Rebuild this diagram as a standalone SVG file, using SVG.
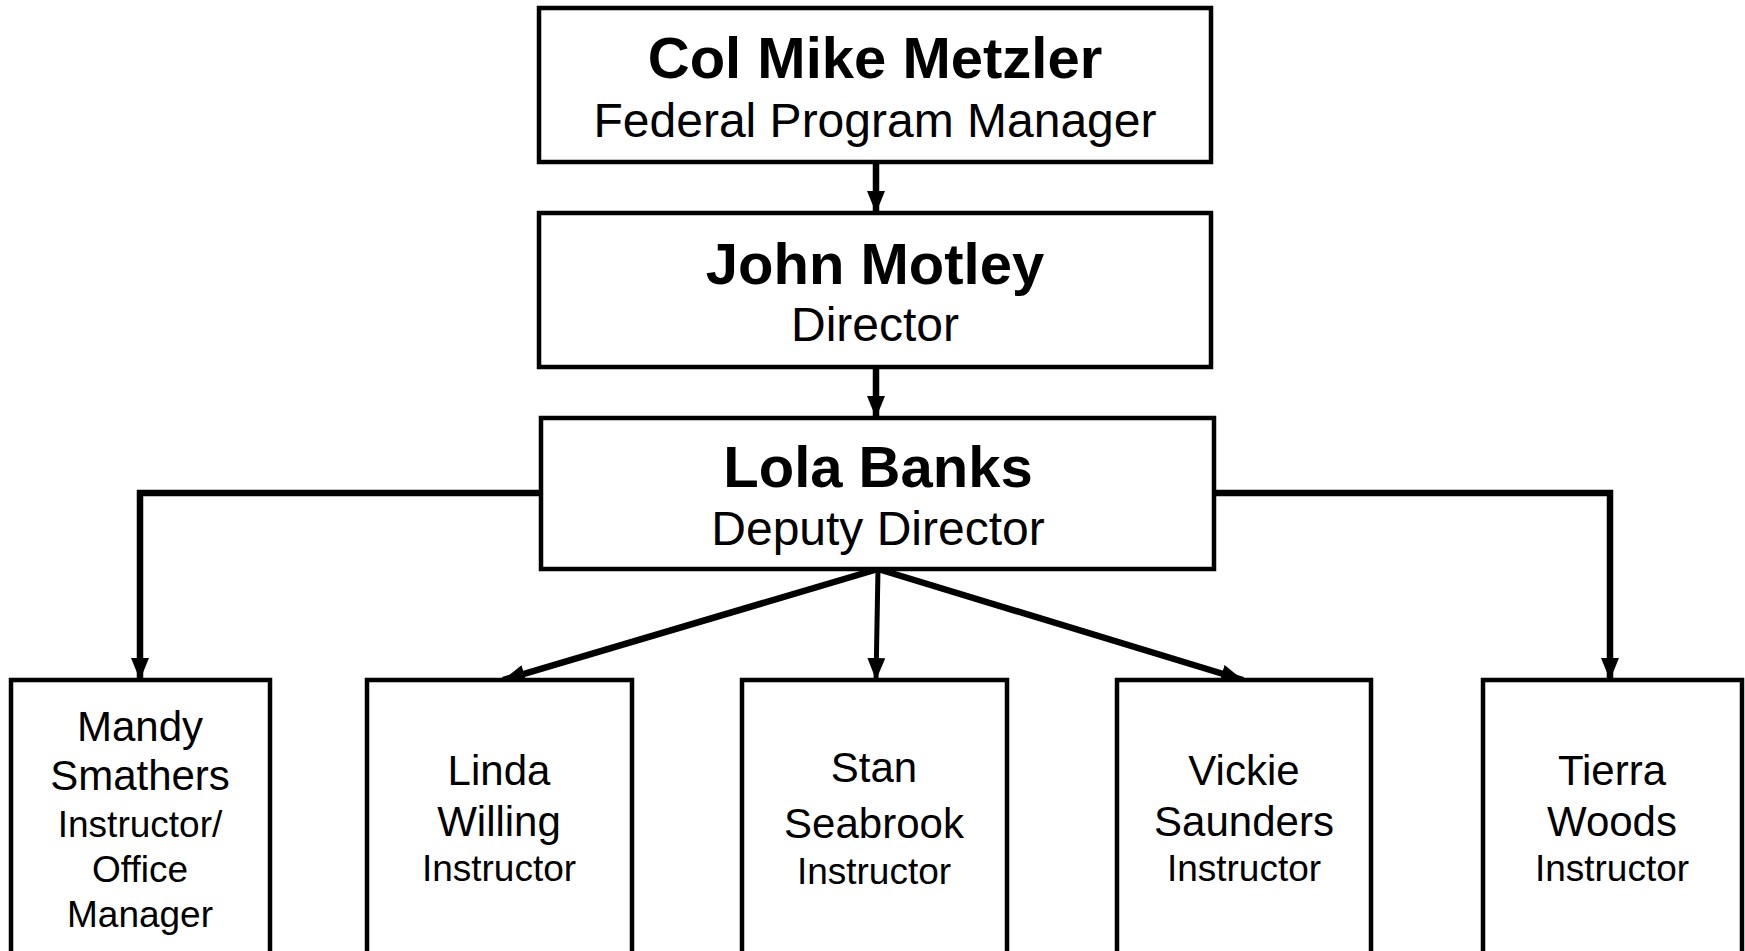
<svg xmlns="http://www.w3.org/2000/svg" width="1745" height="951" viewBox="0 0 1745 951">
<defs>
<style>
.box{fill:#fff;stroke:#000;stroke-width:4.5}
.t{font-family:"Liberation Sans",Arial,sans-serif;fill:#000;text-anchor:middle}
.b{font-weight:bold;font-size:58px}
.s{font-size:48px}
.n{font-size:42px}
.r{font-size:37px}
.c{fill:none;stroke:#000;stroke-width:6.5;stroke-linejoin:miter}
</style>
<marker id="ah" viewBox="0 0 22 18" refX="22" refY="9" markerWidth="22" markerHeight="18" markerUnits="userSpaceOnUse" orient="auto">
<path d="M0,0 L22,9 L0,18 Z" fill="#000"/>
</marker>
</defs>
<rect width="1745" height="951" fill="#fff"/>
<g id="connectors">
<line class="c" x1="876" y1="162" x2="876" y2="213" marker-end="url(#ah)"/>
<line class="c" x1="876" y1="361" x2="876" y2="418" marker-end="url(#ah)"/>
<polyline class="c" points="541,493 140,493 140,680" marker-end="url(#ah)"/>
<polyline class="c" points="1214,493 1610,493 1610,680" marker-end="url(#ah)"/>
<line class="c" x1="878" y1="569" x2="503" y2="680" marker-end="url(#ah)"/>
<line class="c" x1="878" y1="569" x2="876" y2="680" marker-end="url(#ah)" style="stroke-width:5"/>
<line class="c" x1="878" y1="569" x2="1243" y2="680" marker-end="url(#ah)"/>
</g>
<g id="metzler">
<rect class="box" x="539" y="8" width="672" height="154"/>
<text class="t b" x="875" y="78">Col Mike Metzler</text>
<text class="t s" x="875" y="137">Federal Program Manager</text>
</g>
<g id="motley">
<rect class="box" x="539" y="213" width="672" height="154"/>
<text class="t b" x="875" y="284">John Motley</text>
<text class="t s" x="875" y="341">Director</text>
</g>
<g id="banks">
<rect class="box" x="541" y="418" width="673" height="151"/>
<text class="t b" x="878" y="487">Lola Banks</text>
<text class="t s" x="878" y="545">Deputy Director</text>
</g>
<g id="smathers">
<rect class="box" x="11" y="680" width="259" height="280"/>
<text class="t n" x="140" y="741">Mandy</text>
<text class="t n" x="140" y="790">Smathers</text>
<text class="t r" x="140" y="837">Instructor/</text>
<text class="t r" x="140" y="882">Office</text>
<text class="t r" x="140" y="927">Manager</text>
</g>
<g id="willing">
<rect class="box" x="367" y="680" width="265" height="280"/>
<text class="t n" x="499" y="785">Linda</text>
<text class="t n" x="499" y="836">Willing</text>
<text class="t r" x="499" y="881">Instructor</text>
</g>
<g id="seabrook">
<rect class="box" x="742" y="680" width="265" height="280"/>
<text class="t n" x="874" y="782">Stan</text>
<text class="t n" x="874" y="838">Seabrook</text>
<text class="t r" x="874" y="884">Instructor</text>
</g>
<g id="saunders">
<rect class="box" x="1117" y="680" width="254" height="280"/>
<text class="t n" x="1244" y="785">Vickie</text>
<text class="t n" x="1244" y="836">Saunders</text>
<text class="t r" x="1244" y="881">Instructor</text>
</g>
<g id="woods">
<rect class="box" x="1483" y="680" width="259" height="280"/>
<text class="t n" x="1612" y="785">Tierra</text>
<text class="t n" x="1612" y="836">Woods</text>
<text class="t r" x="1612" y="881">Instructor</text>
</g>
</svg>
